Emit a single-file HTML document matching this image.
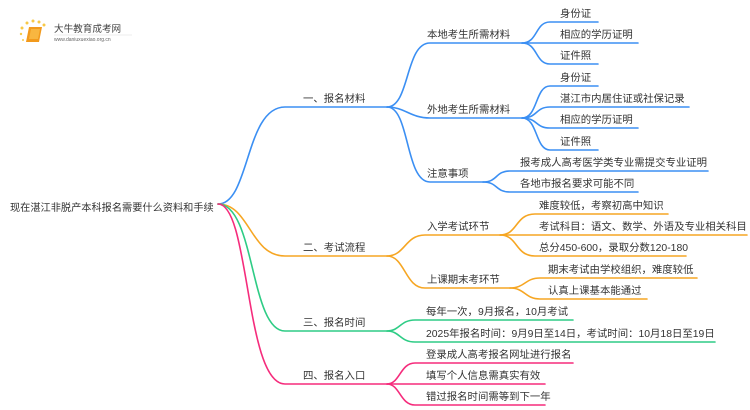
<!DOCTYPE html>
<html><head><meta charset="utf-8"><style>
html,body{margin:0;padding:0;background:#fff;}
svg{display:block;}
text{font-family:"Liberation Sans","Noto Sans CJK SC",sans-serif;fill:#333;font-size:10.4px;}
</style></head><body>
<svg width="750" height="410" viewBox="0 0 750 410" xmlns="http://www.w3.org/2000/svg">
<g>
<circle cx="22" cy="28" r="1.5" fill="#f7c948"/><circle cx="27" cy="23" r="1.5" fill="#f7c948"/>
<circle cx="33" cy="21" r="1.5" fill="#f7c948"/><circle cx="39" cy="22" r="1.5" fill="#f7c948"/>
<circle cx="44" cy="25" r="1.5" fill="#f7c948"/><circle cx="21" cy="34" r="1.2" fill="#f7c948"/>
<circle cx="23" cy="40" r="1" fill="#f7c948"/>
<path d="M29 27 L42 27 L39 42 L26 42 Z" fill="#f29a1c"/>
<path d="M31 29 L40 29 L38 39 L29 39 Z" fill="#f8b640"/>
<text x="54" y="32" style="font-size:9.6px;fill:#444">大牛教育成考网</text>
<text x="54" y="41" style="font-size:5px;fill:#666">www.daniuxuexiao.org.cn</text>
<line x1="54" y1="35" x2="132" y2="35" stroke="#ddd" stroke-width="0.6"/>
</g>
<text x="10" y="211" style="font-size:10.2px">现在湛江非脱产本科报名需要什么资料和手续</text>
<g fill="none" stroke-width="1.6" stroke-linecap="round">
<g stroke="#3b8ff3">
<path d="M218 204 C250 204 245 107 285 107 L387 107"/>
<path d="M387 107 C410 107 405 43 430 43 L522 43"/>
<path d="M387 107 C405 107 410 118 430 118 L522 118"/>
<path d="M387 107 C410 107 405 182 430 182 L483 182"/>
<path d="M522 43 C538 43 535 22 550 22 L598 22"/>
<path d="M522 43 L638 43"/>
<path d="M522 43 C538 43 535 64 550 64 L598 64"/>
<path d="M522 118 C538 118 535 86 550 86 L598 86"/>
<path d="M522 118 C538 118 535 107 550 107 L689 107"/>
<path d="M522 118 C538 118 535 128 550 128 L638 128"/>
<path d="M522 118 C538 118 535 150 550 150 L598 150"/>
<path d="M483 182 C498 182 495 171 510 171 L708 171"/>
<path d="M483 182 C498 182 495 192 510 192 L638 192"/>
</g>
<g stroke="#f6a623">
<path d="M218 204 C250 204 250 256 285 256 L387 256"/>
<path d="M387 256 C405 256 405 235 425 235 L500 235"/>
<path d="M387 256 C405 256 405 288 425 288 L510 288"/>
<path d="M500 235 C518 235 515 214 535 214 L668 214"/>
<path d="M500 235 L747 235"/>
<path d="M500 235 C518 235 515 256 535 256 L686 256"/>
<path d="M510 288 C525 288 525 278 540 278 L697 278"/>
<path d="M510 288 C525 288 525 299 540 299 L647 299"/>
</g>
<g stroke="#2ecc85">
<path d="M218 204 C255 204 250 331 285 331 L387 331"/>
<path d="M387 331 C400 331 400 320 415 320 L573 320"/>
<path d="M387 331 C400 331 400 342 415 342 L715 342"/>
</g>
<g stroke="#f52c7c">
<path d="M218 204 C250 204 245 384 285 384 L387 384"/>
<path d="M387 384 C400 384 400 363 415 363 L573 363"/>
<path d="M387 384 L545 384"/>
<path d="M387 384 C400 384 400 405 415 405 L545 405"/>
</g>
</g>
<text x="303" y="102">一、报名材料</text>
<text x="427" y="38">本地考生所需材料</text>
<text x="427" y="113">外地考生所需材料</text>
<text x="427" y="177">注意事项</text>
<text x="560" y="17">身份证</text>
<text x="560" y="38">相应的学历证明</text>
<text x="560" y="59">证件照</text>
<text x="560" y="81">身份证</text>
<text x="560" y="102">湛江市内居住证或社保记录</text>
<text x="560" y="123">相应的学历证明</text>
<text x="560" y="145">证件照</text>
<text x="520" y="166">报考成人高考医学类专业需提交专业证明</text>
<text x="520" y="187">各地市报名要求可能不同</text>
<text x="303" y="251">二、考试流程</text>
<text x="427" y="230">入学考试环节</text>
<text x="427" y="283">上课期末考环节</text>
<text x="539" y="209">难度较低，考察初高中知识</text>
<text x="539" y="230">考试科目：语文、数学、外语及专业相关科目</text>
<text x="539" y="251">总分450-600，录取分数120-180</text>
<text x="548" y="273">期末考试由学校组织，难度较低</text>
<text x="548" y="294">认真上课基本能通过</text>
<text x="303" y="326">三、报名时间</text>
<text x="426" y="315">每年一次，9月报名，10月考试</text>
<text x="426" y="337">2025年报名时间：9月9日至14日，考试时间：10月18日至19日</text>
<text x="303" y="379">四、报名入口</text>
<text x="426" y="358">登录成人高考报名网址进行报名</text>
<text x="426" y="379">填写个人信息需真实有效</text>
<text x="426" y="400">错过报名时间需等到下一年</text>
</svg>
</body></html>
